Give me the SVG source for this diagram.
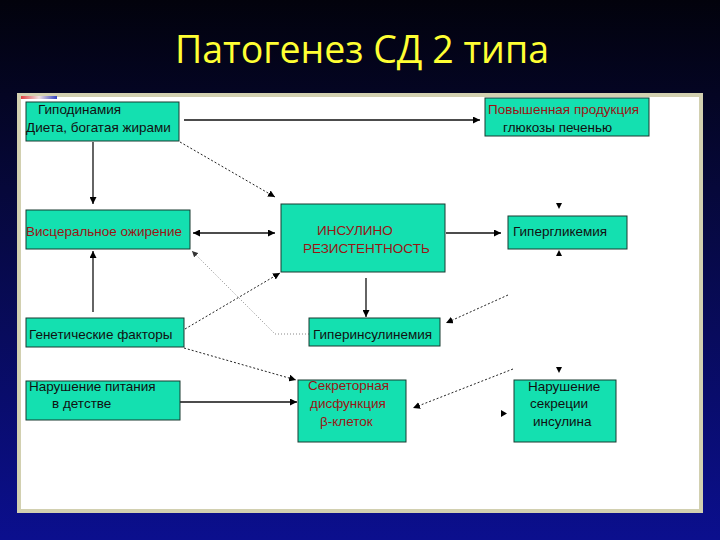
<svg xmlns="http://www.w3.org/2000/svg" width="720" height="540" viewBox="0 0 720 540">
<defs>
<linearGradient id="bg" x1="0" y1="0" x2="0" y2="1">
<stop offset="0" stop-color="#02020c"/>
<stop offset="0.35" stop-color="#06083a"/>
<stop offset="1" stop-color="#0b0f8e"/>
</linearGradient>
<linearGradient id="deco" x1="0" y1="0" x2="1" y2="0">
<stop offset="0" stop-color="#e04040"/>
<stop offset="0.5" stop-color="#f0e0e0"/>
<stop offset="1" stop-color="#3040c0"/>
</linearGradient>
<marker id="ah" viewBox="0 0 10 10" refX="10" refY="5" markerWidth="7" markerHeight="7" markerUnits="userSpaceOnUse" orient="auto-start-reverse">
<path d="M0,0 L10,5 L0,10 z" fill="#000"/>
</marker>
<marker id="ahg" viewBox="0 0 10 10" refX="10" refY="5" markerWidth="6" markerHeight="6" markerUnits="userSpaceOnUse" orient="auto">
<path d="M0,0 L10,5 L0,10 z" fill="#333"/>
</marker>
<style>
.box{fill:#14e0b0;stroke:#183a30;stroke-width:1}
.t{font-family:"Liberation Sans",Arial,sans-serif;font-size:13.5px;fill:#111}
.r{fill:#9a1414}
.solid{stroke:#111;stroke-width:1.3;fill:none;marker-end:url(#ah)}
.dash{stroke:#222;stroke-width:1;stroke-dasharray:2 2;fill:none;marker-end:url(#ah)}
.dot{stroke:#888;stroke-width:1;stroke-dasharray:1 2;fill:none;marker-end:url(#ahg)}
.head{fill:#000}
</style>
</defs>
<rect x="0" y="0" width="720" height="540" fill="url(#bg)"/>
<text x="362" y="63" text-anchor="middle" font-family="'Open Sans','Noto Sans',sans-serif" font-size="37.5" fill="#ffff33">Патогенез СД 2 типа</text>
<rect x="19" y="95" width="682" height="416" fill="#ffffff" stroke="#d2d0b0" stroke-width="4"/>
<rect x="21" y="96" width="36" height="3" fill="url(#deco)"/>

<g id="connectors">
<line class="solid" x1="184" y1="120" x2="480" y2="120" stroke-width="2"/>
<line class="solid" x1="93" y1="142" x2="93" y2="204"/>
<line class="dash" x1="180" y1="142" x2="275" y2="197"/>
<line class="solid" x1="193" y1="233" x2="275" y2="233" style="marker-start:url(#ah)"/>
<line class="solid" x1="446" y1="233" x2="501" y2="233"/>
<polygon class="head" points="556,203 562,203 559,209"/>
<polygon class="head" points="556,256 562,256 559,250"/>
<line class="solid" x1="93" y1="312" x2="93" y2="251"/>
<line class="dash" x1="185" y1="329" x2="280" y2="273"/>
<path class="dot" d="M309,334 L275,334 L192,251"/>
<line class="solid" x1="366" y1="278" x2="366" y2="317"/>
<line class="dash" x1="508" y1="295" x2="446" y2="323"/>
<line class="dash" x1="184" y1="348" x2="296" y2="380"/>
<line class="solid" x1="180" y1="402" x2="297" y2="402"/>
<line class="dash" x1="513" y1="369" x2="413" y2="408"/>
<polygon class="head" points="556,367 562,367 559,373"/>
<polygon class="head" points="501,410 501,417 507,413.5"/>
</g>

<g id="n1">
<rect class="box" x="26" y="102" width="153" height="39"/>
<text class="t" x="38" y="114">Гиподинамия</text>
<text class="t" x="26" y="132">Диета, богатая жирами</text>
</g>
<g id="n2">
<rect class="box" x="485" y="98" width="164" height="38"/>
<text class="t r" x="488" y="114">Повышенная продукция</text>
<text class="t" x="503" y="132">глюкозы печенью</text>
</g>
<g id="n3">
<rect class="box" x="26" y="210" width="164" height="39"/>
<text class="t r" x="26" y="236">Висцеральное ожирение</text>
</g>
<g id="n4">
<rect class="box" x="281" y="204" width="164" height="68"/>
<text class="t r" x="317" y="235">ИНСУЛИНО</text>
<text class="t r" x="303" y="253">РЕЗИСТЕНТНОСТЬ</text>
</g>
<g id="n5">
<rect class="box" x="508" y="216" width="119" height="33"/>
<text class="t" x="513" y="236">Гипергликемия</text>
</g>
<g id="n6">
<rect class="box" x="26" y="318" width="158" height="29"/>
<text class="t" x="29" y="339">Генетические факторы</text>
</g>
<g id="n7">
<rect class="box" x="309" y="318" width="131" height="28"/>
<text class="t" x="313" y="339">Гиперинсулинемия</text>
</g>
<g id="n8">
<rect class="box" x="26" y="381" width="154" height="39"/>
<text class="t" x="29" y="391">Нарушение питания</text>
<text class="t" x="52" y="408">в детстве</text>
</g>
<g id="n9">
<rect class="box" x="298" y="380" width="108" height="62"/>
<text class="t r" x="308" y="390">Секреторная</text>
<text class="t r" x="310" y="408">дисфункция</text>
<text class="t r" x="320" y="426">β-клеток</text>
</g>
<g id="n10">
<rect class="box" x="514" y="380" width="102" height="62"/>
<text class="t" x="528" y="391">Нарушение</text>
<text class="t" x="530" y="408">секреции</text>
<text class="t" x="533" y="426">инсулина</text>
</g>
</svg>
